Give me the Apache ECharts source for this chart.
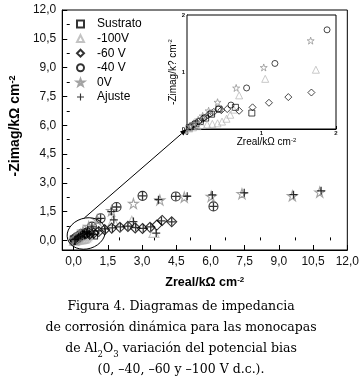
<!DOCTYPE html>
<html><head><meta charset="utf-8">
<script src="https://cdn.jsdelivr.net/npm/echarts@6/dist/echarts.min.js"></script>
<style>html,body{margin:0;padding:0;background:#fff}#c{width:362px;height:383px}</style>
</head><body><div id="c"></div>
<script>
// ---- data (Zreal, -Zimag) in kΩ cm^-2 ----
const sustrato = [[0.03,0.02],[0.07,0.05],[0.12,0.09],[0.18,0.13],[0.25,0.19],[0.33,0.26],[0.43,0.35],[0.65,0.38],[0.87,0.28]];
const v100 = [[0.03,0.01],[0.08,0.03],[0.14,0.05],[0.2,0.07],[0.27,0.08],[0.34,0.09],[0.41,0.1],[0.47,0.13],[0.53,0.18],[0.58,0.25],[0.63,0.34],[0.70,0.59],[1.05,0.88],[1.73,1.04],[2.55,1.0],[3.52,0.42]];
const v60 = [[0.04,0.04],[0.09,0.08],[0.15,0.13],[0.21,0.18],[0.28,0.24],[0.36,0.3],[0.46,0.33],[0.54,0.35],[0.7,0.32],[0.88,0.38],[1.1,0.46],[1.36,0.56],[1.67,0.64],[2.03,0.68],[2.38,0.73],[2.7,0.65],[3.02,0.62],[3.35,0.68],[3.65,0.8],[3.88,1.04],[4.3,0.97]];
const v40 = [[0.05,0.04],[0.1,0.09],[0.16,0.14],[0.23,0.2],[0.31,0.27],[0.42,0.35],[0.59,0.42],[0.80,0.72],[1.18,1.15],[1.88,1.74],[3.02,2.32],[4.48,2.29],[6.13,1.77]];
const v0 = [[0.04,0.05],[0.09,0.1],[0.15,0.16],[0.21,0.23],[0.29,0.32],[0.41,0.47],[0.66,0.72],[1.03,1.08],[1.66,1.55],[2.62,1.92],[3.78,2.1],[4.85,2.25],[6.03,2.29],[7.38,2.43],[9.59,2.32],[10.79,2.51]];
const ajuste = [[0.05,0.04],[0.1,0.08],[0.16,0.13],[0.22,0.19],[0.3,0.25],[0.38,0.31],[0.47,0.36],[0.56,0.4],[0.68,0.35],[0.88,0.3],[0.6,0.45],[0.8,0.7],[1.18,1.15],[1.65,1.5],[1.88,1.74],[3.02,2.32],[4.48,2.29],[6.13,1.77],[3.72,2.12],[4.98,2.3],[6.08,2.37],[7.48,2.48],[9.64,2.38],[10.85,2.58],[1.1,0.5],[1.38,0.6],[1.76,1.07],[1.7,0.65],[2.05,0.7],[2.38,0.74],[2.62,0.98],[2.72,0.67],[3.05,0.63],[3.38,0.7],[3.62,0.38],[3.85,1.02],[4.3,0.97]];

const seriesNames = ['Sustrato','-100V','-60 V','-40 V','0V','Ajuste'];
const xTicks = [0,1.5,3,4.5,6,7.5,9,10.5,12];
const xMinorTicks = [0.75,2.25,3.75,5.25,6.75,8.25,9.75,11.25];
const yTicks = [0,1.5,3,4.5,6,7.5,9,10.5,12];
const yMinorTicks = [0.75,2.25,3.75,5.25,6.75,8.25,9.75,11.25];
const insetTicks = [0,1,2];
const captionLines = ['Figura 4. Diagramas de impedancia','de corrosión dinámica para las monocapas','de Al{sub|2}O{sub|3} variación del potencial bias','(0, –40, –60 y –100 V d.c.).'];
// annotation anchors (data units)
const ellipseCenter = [0.55,0.36];
const ellipseRadii = [0.85,0.8];
const lineStart = [0.47,1.17];
const lineEndInset = [0,0];

const STAR = 'path://M50,0 L61.8,35.4 L100,35.4 L69.1,57.3 L80.9,93.3 L50,71 L19.1,93.3 L30.9,57.3 L0,35.4 L38.2,35.4 Z';
const PLUS = 'path://M4.2,0H5.8V4.2H10V5.8H5.8V10H4.2V5.8H0V4.2H4.2Z';
const FONT = 'Liberation Sans, Arial, sans-serif';
const clear = 'rgba(0,0,0,0)';

const styles = {
  'Sustrato': {symbol:'rect', size:8, border:'#000', insetSize:6},
  '-100V': {symbol:'triangle', size:10, border:'#b4b4b4', insetSize:7},
  '-60 V': {symbol:'diamond', size:10, border:'#000', insetSize:7},
  '-40 V': {symbol:'circle', size:9, border:'#000', insetSize:6},
  '0V': {symbol:STAR, size:10, border:'#8c8c8c', insetSize:7}
};
const dataByName = {'Sustrato':sustrato,'-100V':v100,'-60 V':v60,'-40 V':v40,'0V':v0};

const series = [];
Object.keys(dataByName).forEach(n => {
  const s = styles[n];
  series.push({name:n, type:'scatter', xAxisIndex:0, yAxisIndex:0, data:dataByName[n],
    symbol:s.symbol, symbolSize:s.size, itemStyle:{color:clear, borderColor:s.border, borderWidth:1.1}, z:2});
});
series.push({name:'Ajuste', type:'scatter', xAxisIndex:0, yAxisIndex:0, data:ajuste,
  symbol:PLUS, symbolSize:8, itemStyle:{color:'#000', borderWidth:0}, z:3});
Object.keys(dataByName).forEach(n => {
  const s = styles[n];
  series.push({name:n, type:'scatter', xAxisIndex:2, yAxisIndex:2, data:dataByName[n], clip:true,
    symbol:s.symbol, symbolSize:s.insetSize, itemStyle:{color:clear, borderColor:s.border, borderWidth:0.9}, z:4});
});

const fmt = v => v.toFixed(1).replace('.', ',');
const tickCol = '#000';

const option = {
  animation:false,
  backgroundColor:'#fff',
  title:{
    text: captionLines.join('\n'),
    left:'center', top:291,
    textStyle:{fontFamily:'DejaVu Serif, serif', fontSize:12.5, fontWeight:'normal', color:'#000', lineHeight:21,
      rich:{sub:{fontFamily:'DejaVu Serif, serif', fontSize:8.5, color:'#000', verticalAlign:'bottom', lineHeight:21}}}
  },
  legend:{
    data: seriesNames, orient:'vertical', left:71, top:13, itemWidth:7, itemHeight:7, itemGap:2.6,
    selectedMode:false,
    textStyle:{fontFamily:FONT, fontSize:12, color:'#000', lineHeight:12, padding:[0,0,0,8]}
  },
  grid:[
    {left:55, top:10, right:14, bottom:133, show:true, borderColor:'#000', borderWidth:1},
    {left:55, top:10, right:14, bottom:133, show:false},
    {left:187, top:15, width:149, height:114, show:true, borderColor:'#000', borderWidth:1, backgroundColor:'#fff', z:1}
  ],
  xAxis:[
    {gridIndex:0, type:'value', min:-0.5, max:12,
      axisLine:{show:true, onZero:false, lineStyle:{color:'#000'}},
      axisTick:{show:true, inside:true, length:5, customValues:xTicks, lineStyle:{color:tickCol}},
      axisLabel:{customValues:xTicks, formatter:fmt, color:'#111', fontFamily:FONT, fontSize:12, margin:6},
      splitLine:{show:false},
      name:'Zreal/kΩ cm{sup|-2}', nameLocation:'middle', nameGap:26,
      nameTextStyle:{fontFamily:FONT, fontWeight:'bold', fontSize:12.5, color:'#000',
        rich:{sup:{fontFamily:FONT, fontWeight:'bold', fontSize:8, verticalAlign:'top', color:'#000'}}}},
    {gridIndex:1, type:'value', min:-0.5, max:12,
      axisLine:{show:false}, axisLabel:{show:false}, splitLine:{show:false},
      axisTick:{show:true, inside:true, length:3, customValues:xMinorTicks, lineStyle:{color:tickCol}}},
    {gridIndex:2, type:'value', min:0, max:2, interval:0.5,
      axisLine:{show:true, onZero:false, lineStyle:{color:'#000'}},
      axisTick:{show:true, inside:true, length:3, lineStyle:{color:tickCol}},
      axisLabel:{customValues:insetTicks, formatter:v=>String(v), color:'#111', fontFamily:FONT, fontSize:6, fontWeight:'bold', margin:1},
      splitLine:{show:false},
      name:'Zreal/kΩ cm{sup|-2}', nameLocation:'middle', nameGap:5,
      nameTextStyle:{fontFamily:FONT, fontSize:10, color:'#000', verticalAlign:'top', padding:[0,0,0,10],
        rich:{sup:{fontFamily:FONT, fontSize:6, verticalAlign:'top', color:'#000'}}}}
  ],
  yAxis:[
    {gridIndex:0, type:'value', min:-0.5, max:12,
      axisLine:{show:true, onZero:false, lineStyle:{color:'#000'}},
      axisTick:{show:true, inside:true, length:5, customValues:yTicks, lineStyle:{color:tickCol}},
      axisLabel:{customValues:yTicks, formatter:fmt, color:'#111', fontFamily:FONT, fontSize:12, margin:6},
      splitLine:{show:false},
      name:'-Zimag/kΩ cm{sup|-2}', nameLocation:'middle', nameGap:24,
      nameTextStyle:{fontFamily:FONT, fontWeight:'bold', fontSize:14, color:'#000', padding:[0,0,0,8],
        rich:{sup:{fontFamily:FONT, fontWeight:'bold', fontSize:9, verticalAlign:'top', color:'#000'}}}},
    {gridIndex:1, type:'value', min:-0.5, max:12,
      axisLine:{show:false}, axisLabel:{show:false}, splitLine:{show:false},
      axisTick:{show:true, inside:true, length:3, customValues:yMinorTicks, lineStyle:{color:tickCol}}},
    {gridIndex:2, type:'value', min:0, max:2, interval:0.5,
      axisLine:{show:true, onZero:false, lineStyle:{color:'#000'}},
      axisTick:{show:true, inside:true, length:3, lineStyle:{color:tickCol}},
      axisLabel:{customValues:insetTicks, formatter:v=>String(v), color:'#111', fontFamily:FONT, fontSize:6, fontWeight:'bold', margin:2},
      splitLine:{show:false},
      name:'-Zimag/k? cm{sup|-2}', nameLocation:'middle', nameGap:4,
      nameTextStyle:{fontFamily:FONT, fontSize:10, color:'#000',
        rich:{sup:{fontFamily:FONT, fontSize:6, verticalAlign:'top', color:'#000'}}}}
  ],
  series: series
};

const chart = echarts.init(document.getElementById('c'));
chart.setOption(option);

function annotations(){
  const c = chart.convertToPixel({gridIndex:0}, ellipseCenter);
  const e = chart.convertToPixel({gridIndex:0}, [ellipseCenter[0]+ellipseRadii[0], ellipseCenter[1]+ellipseRadii[1]]);
  const rx = e[0]-c[0], ry = c[1]-e[1];
  const p0 = chart.convertToPixel({gridIndex:0}, lineStart);
  const p1 = chart.convertToPixel({gridIndex:2}, lineEndInset);
  const ang = Math.atan2(p1[1]-p0[1], p1[0]-p0[0]);
  const L = 7, W = 2.6;
  const bx = p1[0]-L*Math.cos(ang), by = p1[1]-L*Math.sin(ang);
  const pts = [[p1[0],p1[1]],[bx - W*Math.sin(ang), by + W*Math.cos(ang)],[bx + W*Math.sin(ang), by - W*Math.cos(ang)]];
  chart.setOption({graphic:[
    {type:'ellipse', shape:{cx:c[0], cy:c[1], rx:rx, ry:ry}, originX:c[0], originY:c[1], rotation:0.3,
      style:{fill:null, stroke:'#000', lineWidth:0.9}, z:10},
    {type:'line', shape:{x1:p0[0], y1:p0[1], x2:bx, y2:by}, style:{stroke:'#000', lineWidth:1}, z:10},
    {type:'polygon', shape:{points:pts}, style:{fill:'#000'}, z:10}
  ]});
}
annotations();
</script>
</body></html>
